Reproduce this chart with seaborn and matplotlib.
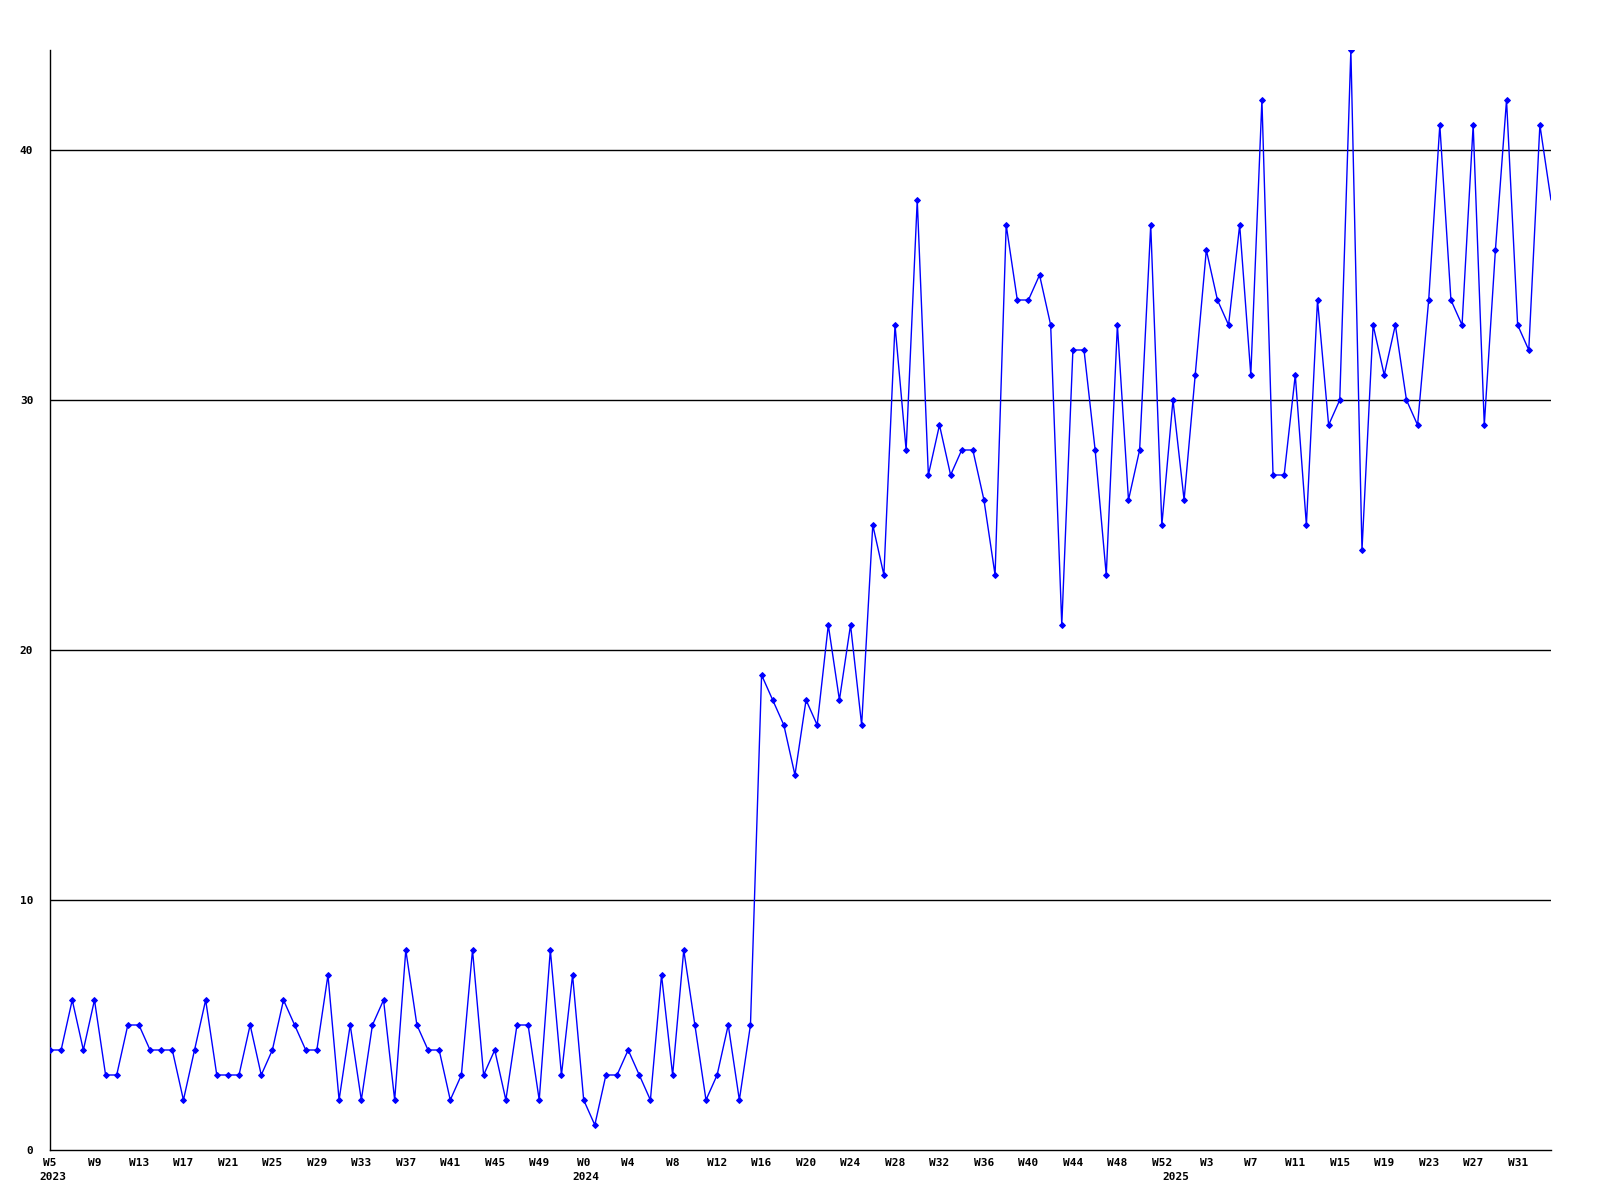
import numpy as np
import pandas as pd
import matplotlib
matplotlib.use('Agg')
import matplotlib.pyplot as plt
import seaborn as sns

# weekly counts, 2023 W5 .. 2025 W34
values = [
    4, 4, 6, 4, 6, 3, 3, 5, 5, 4, 4, 4, 2, 4, 6, 3, 3, 3, 5, 3,
    4, 6, 5, 4, 4, 7, 2, 5, 2, 5, 6, 2, 8, 5, 4, 4, 2, 3, 8, 3,
    4, 2, 5, 5, 2, 8, 3, 7, 2, 1, 3, 3, 4, 3, 2, 7, 3, 8, 5, 2,
    3, 5, 2, 5, 19, 18, 17, 15, 18, 17, 21, 18, 21, 17, 25, 23, 33, 28, 38, 27,
    29, 27, 28, 28, 26, 23, 37, 34, 34, 35, 33, 21, 32, 32, 28, 23, 33, 26, 28, 37,
    25, 30, 26, 31, 36, 34, 33, 37, 31, 42, 27, 27, 31, 25, 34, 29, 30, 44, 24, 33,
    31, 33, 30, 29, 34, 41, 34, 33, 41, 29, 36, 42, 33, 32, 41, 38,
]
years = ['2023', '2024', '2025']
first_week = [5, 0, 0]
last_week = [52, 52, 34]

weeks = []
year_of = []
for y, a, b in zip(years, first_week, last_week):
    for w in range(a, b + 1):
        weeks.append('W%d' % w)
        year_of.append(y)

df = pd.DataFrame({'idx': np.arange(len(values)), 'count': values,
                   'week': weeks, 'year': year_of})

sns.set_style('white')
plt.rcParams['font.family'] = ['DejaVu Sans Mono']
plt.rcParams['font.weight'] = 'bold'
plt.rcParams['text.color'] = 'black'
plt.rcParams['xtick.color'] = 'black'
plt.rcParams['ytick.color'] = 'black'

fig = plt.figure(figsize=(16, 12), dpi=100)
ax = fig.add_axes([50 / 1600, 50 / 1200, 1501 / 1600, 1100 / 1200])

for v in [10, 20, 30, 40]:
    ax.axhline(v, color='black', linewidth=1.0, zorder=1)

# the last week sits on the right edge, its marker falls outside the frame
sns.lineplot(data=df, x='idx', y='count', ax=ax, color='#0000ff',
             linewidth=1.0, marker='D', markersize=3,
             markeredgecolor='#0000ff', markevery=list(range(len(values) - 1)),
             zorder=3)

ax.set_xlim(0, len(values) - 1)
ax.set_ylim(0, 44)

tick_idx = list(range(0, len(values), 4))
ax.set_xticks(tick_idx)
ax.set_xticklabels([weeks[i] for i in tick_idx], fontsize=8, fontweight='bold')
ax.set_yticks([0, 10, 20, 30, 40])
ax.set_yticklabels(['0', '10', '20', '30', '40'], fontsize=8, fontweight='bold')
ax.tick_params(axis='x', length=0, pad=6, colors='black')
ax.tick_params(axis='y', length=0, pad=12, colors='black')

# year labels under the first week of each year
for i, (w, y) in enumerate(zip(weeks, year_of)):
    if i == 0 or year_of[i - 1] != y:
        ax.annotate(y, xy=(i, 0), xycoords=('data', 'axes fraction'),
                    xytext=(-11, -22), textcoords='offset pixels',
                    ha='left', va='top', fontsize=8, fontweight='bold',
                    color='black')

for s in ['top', 'right']:
    ax.spines[s].set_visible(False)
for s in ['left', 'bottom']:
    ax.spines[s].set_color('black')
    ax.spines[s].set_linewidth(1.0)

ax.set_xlabel('')
ax.set_ylabel('')

fig.savefig('out.png', dpi=100)
plt.close()
